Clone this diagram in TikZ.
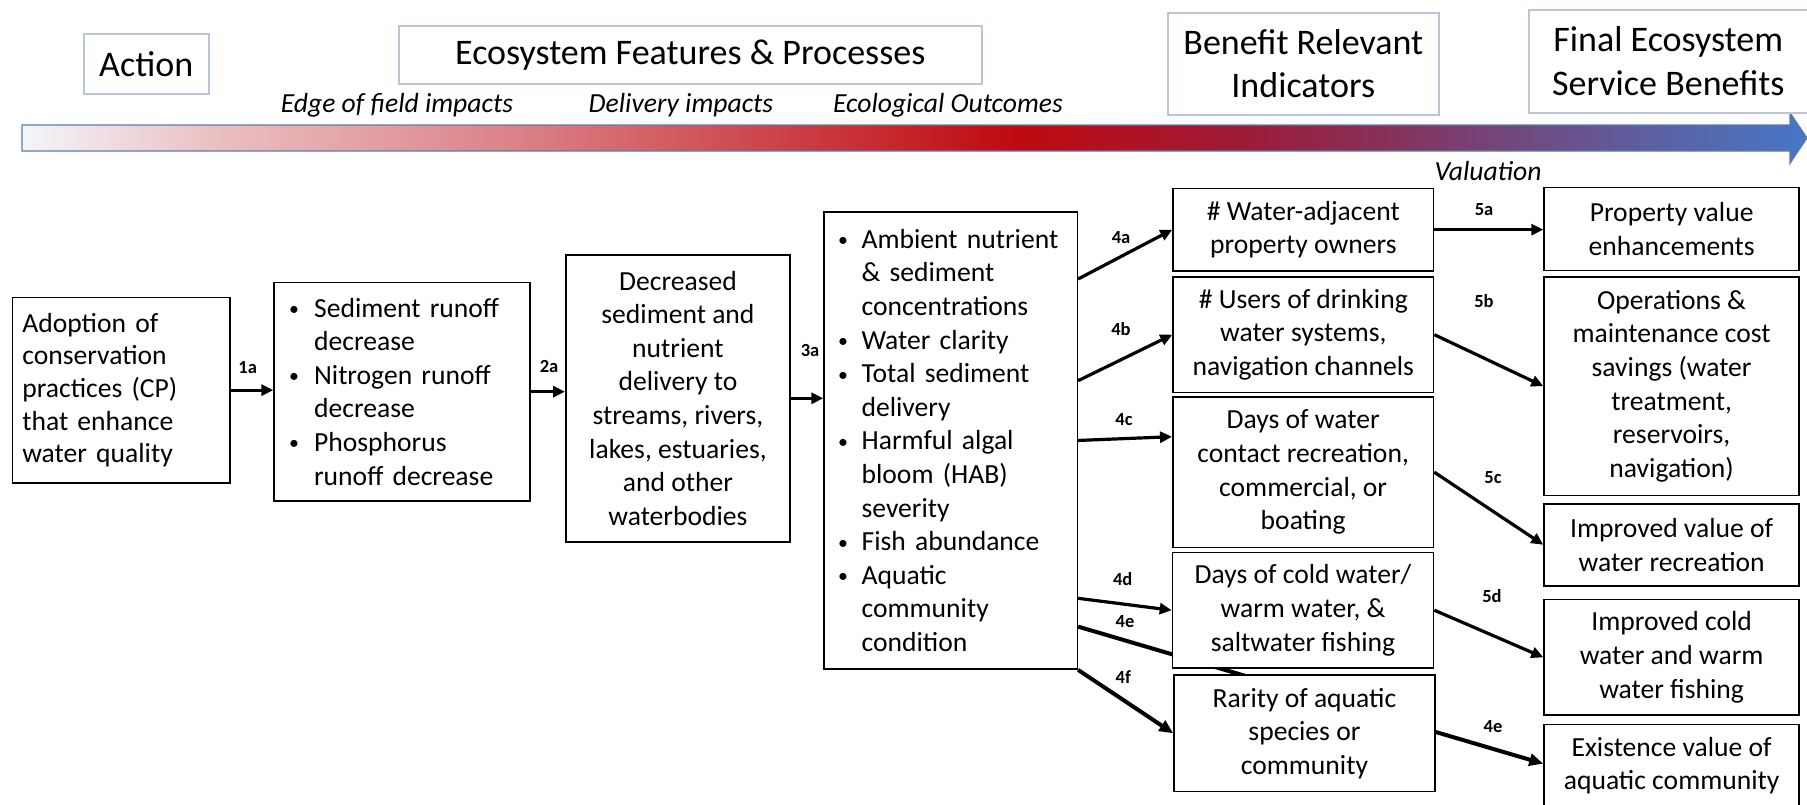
\documentclass[tikz,border=0pt]{standalone}
\usepackage{fontspec}
\setmainfont{Carlito}
\usetikzlibrary{arrows.meta,calc}
\definecolor{g0}{HTML}{F4F5FA}
\definecolor{g1}{HTML}{EBC3C5}
\definecolor{g2}{HTML}{DB8086}
\definecolor{g3}{HTML}{CF555A}
\definecolor{g4}{HTML}{BF0A10}
\definecolor{g5}{HTML}{9E1A35}
\definecolor{g6}{HTML}{8A2E55}
\definecolor{g7}{HTML}{73467B}
\definecolor{g8}{HTML}{5E5E9F}
\definecolor{g9}{HTML}{4677C6}
\definecolor{hdrline}{HTML}{B8C6D8}
\definecolor{barline}{HTML}{5A7EAA}
\pgfdeclarehorizontalshading{barshade}{100bp}{color(0bp)=(g0); color(25bp)=(g0); color(30bp)=(g1); color(39bp)=(g2); color(44bp)=(g3); color(52.8bp)=(g4); color(59bp)=(g5); color(62.7bp)=(g6); color(66.5bp)=(g7); color(70.3bp)=(g8); color(75bp)=(g9); color(100bp)=(g9)}
\pgfdeclarelayer{bg}
\pgfsetlayers{bg,main}
\newcommand\bodyfont{\fontsize{27.6pt}{33.6pt}\selectfont}
\newcommand\hdrfont{\fontsize{36pt}{43.4pt}\selectfont}
\newcommand\itfont{\fontsize{27.6pt}{33pt}\selectfont\itshape}
\newcommand\lblfont{\fontsize{18.5pt}{20pt}\selectfont\bfseries}
\newcommand\smbul{\raisebox{1.6pt}{\scalebox{0.72}{•}}}
\newcommand\bItemB[1]{\hspace*{15pt}\makebox[25pt][l]{\smbul}#1}
\newcommand\bContB[1]{\hspace*{40pt}#1}
\newcommand\bItemD[1]{\hspace*{14pt}\makebox[23.5pt][l]{\smbul}#1}
\newcommand\bContD[1]{\hspace*{37.5pt}#1}
\begin{document}
\begin{tikzpicture}[x=1pt,y=-1pt,
  box/.style={draw=black, line width=1.6pt, fill=white, inner sep=0pt, font=\bodyfont, align=center, anchor=north west},
  hdr/.style={draw=hdrline, line width=1.5pt, fill=white, inner sep=0pt, font=\hdrfont, align=center, anchor=north west},
  itl/.style={font=\itfont, inner sep=0pt},
  lbl/.style={font=\lblfont, inner sep=0pt},
  arr/.style={line width=3.2pt, -{Triangle[length=12pt,width=11pt]}},
  arrT/.style={line width=4pt, -{Triangle[length=14pt,width=12pt]}}]
\useasboundingbox (0,0) rectangle (1807,804);
% gradient arrow
\draw[barline, line width=1.2pt, shade, shading=barshade] (22,125) -- (1790,125) -- (1790,112.7) -- (1807,138) -- (1790,163.3) -- (1790,151) -- (22,151) -- cycle;
% header boxes
\node[hdr, minimum width=125, minimum height=60] (act) at (83,33) {Action};
\node[hdr, minimum width=583, minimum height=58] (eco) at (398,25) {Ecosystem Features \& Processes};
\node[hdr, minimum width=271, minimum height=102] (bri) at (1167,12) {Benefit Relevant\\Indicators};
\node[hdr, minimum width=279, minimum height=103] (fes) at (1528,9) {Final Ecosystem\\Service Benefits};
\node[itl] (edge) at (397,105) {Edge of field impacts};
\node[itl] (deliv) at (681,105) {Delivery impacts};
\node[itl] (ecol) at (948,105) {Ecological Outcomes};
\node[itl] (val) at (1488,171) {Valuation};
% main boxes
\node[box, align=left, text width=198, inner xsep=9.8pt, minimum height=185.3, font=\fontsize{27.6pt}{32.6pt}\selectfont] (A) at (11.7,296.7) {Adoption of\\conservation\\practices (CP)\\that enhance\\water quality};
\node[box, align=left, text width=256, minimum height=218.3] (B) at (273.3,281.7) {\bItemB{Sediment runoff}\\\bContB{decrease}\\\bItemB{Nitrogen runoff}\\\bContB{decrease}\\\bItemB{Phosphorus}\\\bContB{runoff decrease}};
\node[box, minimum width=224.3, minimum height=287] (C) at (565,254) {Decreased\\sediment and\\nutrient\\delivery to\\streams, rivers,\\lakes, estuaries,\\and other\\waterbodies};
\node[box, align=left, text width=253.2, minimum height=457.3] (D) at (823.3,211) {\bItemD{Ambient nutrient}\\\bContD{\& sediment}\\\bContD{concentrations}\\\bItemD{Water clarity}\\\bItemD{Total sediment}\\\bContD{delivery}\\\bItemD{Harmful algal}\\\bContD{bloom (HAB)}\\\bContD{severity}\\\bItemD{Fish abundance}\\\bItemD{Aquatic}\\\bContD{community}\\\bContD{condition}};
\node[box, minimum width=260.4, minimum height=82.3] (E1) at (1172.3,187.7) {\# Water-adjacent\\property owners};
\node[box, minimum width=260.4, minimum height=115.7] (E2) at (1172.3,276) {\# Users of drinking\\water systems,\\navigation channels};
\node[box, minimum width=260.7, minimum height=150.8] (E3) at (1172,396) {Days of water\\contact recreation,\\commercial, or\\boating};
\node[box, minimum width=261, minimum height=115.8] (E4) at (1171.7,551.5) {Days of cold water/\\warm water, \&\\saltwater fishing};
\node[box, minimum width=260.7, minimum height=116.4] (E5) at (1173.3,674.3) {Rarity of aquatic\\species or\\community};
\node[box, minimum width=255, minimum height=82.8] (F1) at (1543.3,186.7) {Property value\\enhancements};
\node[box, minimum width=255, minimum height=218.7] (F2) at (1543.3,276) {Operations \&\\maintenance cost\\savings (water\\treatment,\\reservoirs,\\navigation)};
\node[box, minimum width=255, minimum height=82.1] (F3) at (1543.3,502.9) {Improved value of\\water recreation};
\node[box, minimum width=255, minimum height=115.8] (F4) at (1543.3,598.6) {Improved cold\\water and warm\\water fishing};
\node[box, minimum width=255, minimum height=82.5] (F5) at (1543.3,723.5) {Existence value of\\aquatic community};
% connectors
\draw[arr] (A.east) -- (A.east -| B.west);
\draw[arr] (B.east) -- (B.east -| C.west);
\draw[arr] (C.east) -- (C.east -| D.west);
\draw[arr] ($(D.north east)+(0,68)$) -- (E1.west);
\draw[arr] ($(D.north east)+(0,169.7)$) -- (E2.west);
\draw[arr] (D.east) -- ($(E3.north west)+(0,40.7)$);
\draw[arr] ($(D.south east)+(0,-71.6)$) -- (E4.west);
\draw[arrT] (D.south east) -- (E5.west);
\begin{pgfonlayer}{bg}
\draw[arrT] ($(D.south east)+(0,-43.3)$) -- ($(F5.north west)+(0,40.2)$);
\end{pgfonlayer}
\draw[arr] (E1.east) -- (E1.east -| F1.west);
\draw[arr] (E2.east) -- (F2.west);
\draw[arr] (E3.east) -- (F3.west);
\draw[arr] (E4.east) -- (F4.west);
% labels
\node[lbl] (l1a) at (247.7,368) {1a};
\node[lbl] (l2a) at (549,366.7) {2a};
\node[lbl] (l3a) at (810,350) {3a};
\node[lbl] (l4a) at (1121,237.5) {4a};
\node[lbl] (l4b) at (1121,329.5) {4b};
\node[lbl] (l4c) at (1124,420) {4c};
\node[lbl] (l4d) at (1122.7,579.3) {4d};
\node[lbl] (l4e) at (1125,621.7) {4e};
\node[lbl] (l4f) at (1123.3,677.3) {4f};
\node[lbl] (l5a) at (1484,210) {5a};
\node[lbl] (l5b) at (1484,300.7) {5b};
\node[lbl] (l5c) at (1493,478) {5c};
\node[lbl] (l5d) at (1492,596) {5d};
\node[lbl] (l4e2) at (1493,727) {4e};
\end{tikzpicture}
\end{document}
